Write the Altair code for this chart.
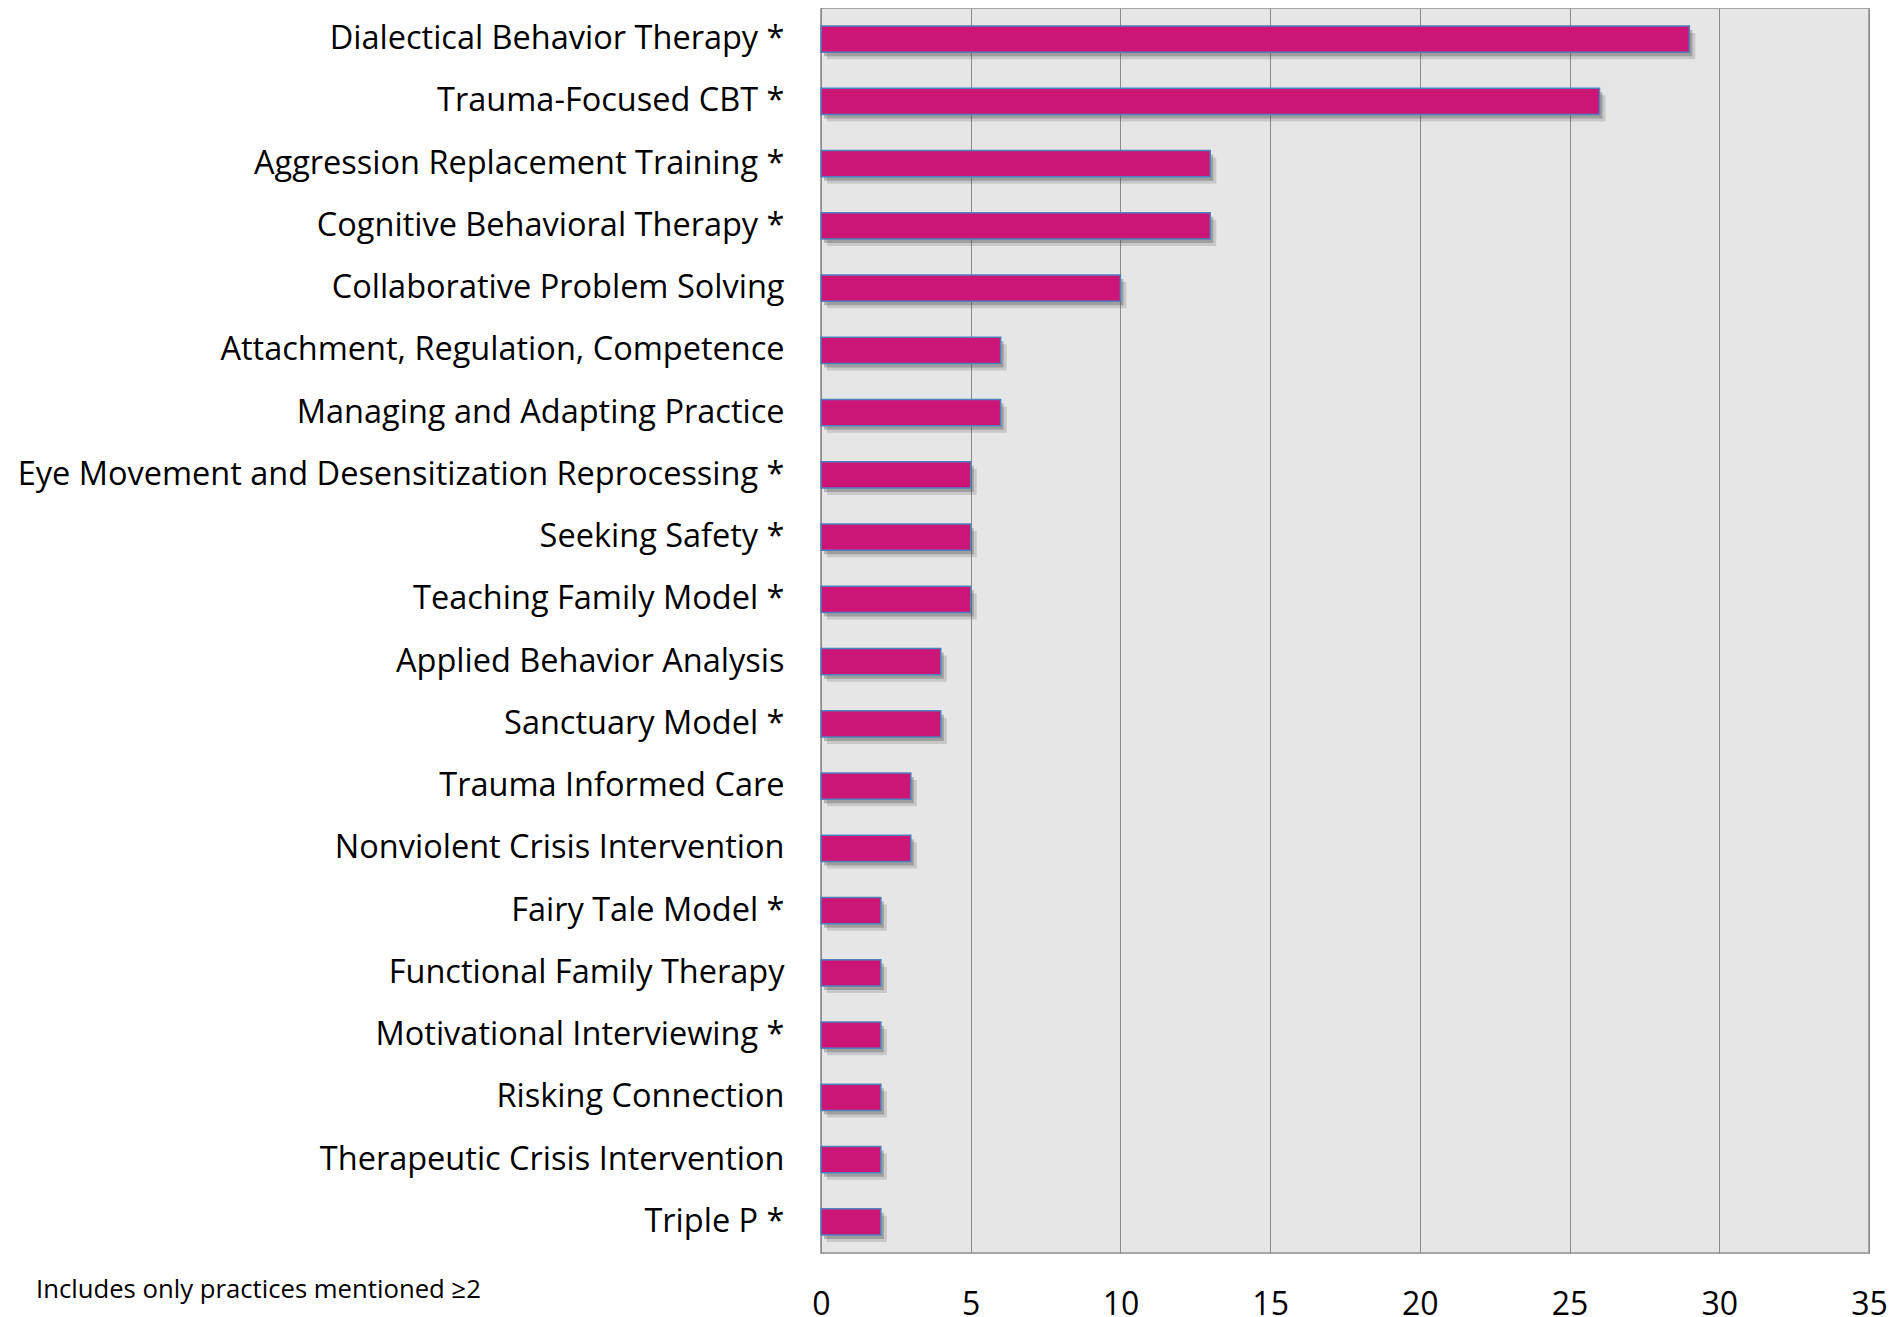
import altair as alt
import pandas as pd

practices = [
    "Dialectical Behavior Therapy *",
    "Trauma-Focused CBT *",
    "Aggression Replacement Training *",
    "Cognitive Behavioral Therapy *",
    "Collaborative Problem Solving",
    "Attachment, Regulation, Competence",
    "Managing and Adapting Practice",
    "Eye Movement and Desensitization Reprocessing *",
    "Seeking Safety *",
    "Teaching Family Model *",
    "Applied Behavior Analysis",
    "Sanctuary Model *",
    "Trauma Informed Care",
    "Nonviolent Crisis Intervention",
    "Fairy Tale Model *",
    "Functional Family Therapy",
    "Motivational Interviewing *",
    "Risking Connection",
    "Therapeutic Crisis Intervention",
    "Triple P *",
]
counts = [29, 26, 13, 13, 10, 6, 6, 5, 5, 5, 4, 4, 3, 3, 2, 2, 2, 2, 2, 2]
x_ticks = [0, 5, 10, 15, 20, 25, 30, 35]
footnote = "Includes only practices mentioned ≥2"

df = pd.DataFrame({"practice": practices, "count": counts})

FONT = "Open Sans"
W, H = 1048, 1245

y_enc = alt.Y(
    "practice:N",
    sort=practices,
    scale=alt.Scale(paddingInner=0.58, paddingOuter=0.29),
    axis=alt.Axis(
        title=None, ticks=False, domain=False, labelFont=FONT, labelFontSize=32.5,
        labelColor="#000000", labelPadding=37, labelLimit=900,
    ),
)
x_enc = alt.X(
    "count:Q",
    scale=alt.Scale(domain=[0, 35], nice=False),
    axis=alt.Axis(
        title=None, values=x_ticks, ticks=False, tickSize=0, domain=False,
        labelFont=FONT, labelFontSize=32, labelColor="#000000", labelPadding=36,
        labelFlush=False, labelOverlap=False,
        grid=True, gridColor="#8C8C8C", gridWidth=1,
    ),
)

base = alt.Chart(df)

shadow1 = base.mark_bar(
    color="#404040", opacity=0.18, xOffset=6, x2Offset=6, yOffset=7, y2Offset=7
).encode(x=x_enc, y=y_enc)

shadow2 = base.mark_bar(
    color="#404040", opacity=0.3, xOffset=3, x2Offset=3, yOffset=4, y2Offset=4
).encode(x=x_enc, y=y_enc)

bars = base.mark_bar(
    color="#CC1677", stroke="#4F81BD", strokeWidth=1.5
).encode(x=x_enc, y=y_enc)

note = alt.Chart(pd.DataFrame({"t": [footnote]})).mark_text(
    font=FONT, fontSize=25.7, align="left", baseline="middle", color="#000000"
).encode(text="t:N", x=alt.value(-785), y=alt.value(1282))

chart = alt.layer(shadow1, shadow2, bars, note).properties(
    width=W, height=H,
    autosize=alt.AutoSizeParams(type="none"),
    padding={"left": 813, "top": 0, "right": 24, "bottom": 90},
).configure_view(
    fill="#E6E6E6", stroke="#A6A6A6", strokeWidth=2
)

chart.save("out.html", embed_options={"renderer": "svg", "actions": False})
